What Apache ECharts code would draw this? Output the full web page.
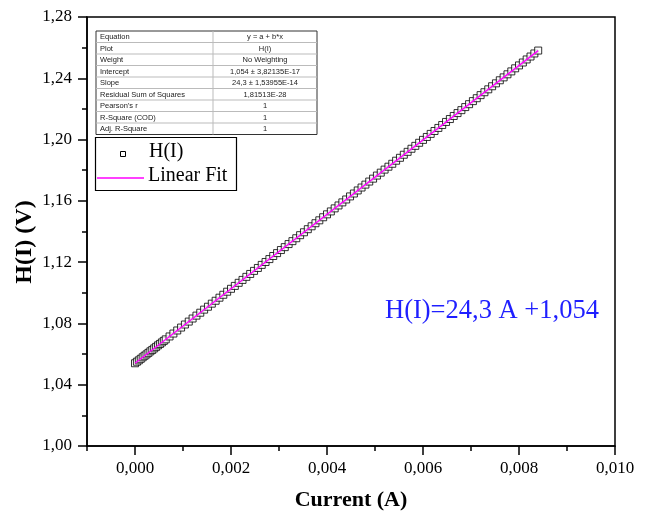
<!DOCTYPE html>
<html>
<head>
<meta charset="utf-8">
<script src="https://cdn.jsdelivr.net/npm/echarts@6/dist/echarts.min.js"></script>
<style>html,body{margin:0;padding:0;background:#fff}#c{width:648px;height:516px}</style>
</head>
<body>
<div id="c"></div>
<script>
// Measured data H(I) vs current
const currentA = [
  0, 0.00004, 0.00008, 0.00012, 0.00016, 0.0002, 0.00024, 0.00028, 0.00032, 0.00036, 0.0004, 0.00044, 0.00048, 0.00052, 0.00056, 0.0006,
  0.00064, 0.00072, 0.0008, 0.00088, 0.00096, 0.00104, 0.00112, 0.0012, 0.00128, 0.00136,
  0.00144, 0.00152, 0.0016, 0.00168, 0.00176, 0.00184, 0.00192, 0.002, 0.00208, 0.00216,
  0.00224, 0.00232, 0.0024, 0.00248, 0.00256, 0.00264, 0.00272, 0.0028, 0.00288, 0.00296,
  0.00304, 0.00312, 0.0032, 0.00328, 0.00336, 0.00344, 0.00352, 0.0036, 0.00368, 0.00376,
  0.00384, 0.00392, 0.004, 0.00408, 0.00416, 0.00424, 0.00432, 0.0044, 0.00448, 0.00456,
  0.00464, 0.00472, 0.0048, 0.00488, 0.00496, 0.00504, 0.00512, 0.0052, 0.00528, 0.00536,
  0.00544, 0.00552, 0.0056, 0.00568, 0.00576, 0.00584, 0.00592, 0.006, 0.00608, 0.00616,
  0.00624, 0.00632, 0.0064, 0.00648, 0.00656, 0.00664, 0.00672, 0.0068, 0.00688, 0.00696,
  0.00704, 0.00712, 0.0072, 0.00728, 0.00736, 0.00744, 0.00752, 0.0076, 0.00768, 0.00776,
  0.00784, 0.00792, 0.008, 0.00808, 0.00816, 0.00824, 0.00832, 0.0084
];
const hVolt = [
  1.0540, 1.0550, 1.0559, 1.0569, 1.0579, 1.0589, 1.0598, 1.0608, 1.0618, 1.0627, 1.0637, 1.0647, 1.0657, 1.0666, 1.0676, 1.0686,
  1.0696, 1.0715, 1.0734, 1.0754, 1.0773, 1.0793, 1.0812, 1.0832, 1.0851, 1.0870,
  1.0890, 1.0909, 1.0929, 1.0948, 1.0968, 1.0987, 1.1007, 1.1026, 1.1045, 1.1065,
  1.1084, 1.1104, 1.1123, 1.1143, 1.1162, 1.1182, 1.1201, 1.1220, 1.1240, 1.1259,
  1.1279, 1.1298, 1.1318, 1.1337, 1.1356, 1.1376, 1.1395, 1.1415, 1.1434, 1.1454,
  1.1473, 1.1493, 1.1512, 1.1531, 1.1551, 1.1570, 1.1590, 1.1609, 1.1629, 1.1648,
  1.1668, 1.1687, 1.1706, 1.1726, 1.1745, 1.1765, 1.1784, 1.1804, 1.1823, 1.1842,
  1.1862, 1.1881, 1.1901, 1.1920, 1.1940, 1.1959, 1.1979, 1.1998, 1.2017, 1.2037,
  1.2056, 1.2076, 1.2095, 1.2115, 1.2134, 1.2154, 1.2173, 1.2192, 1.2212, 1.2231,
  1.2251, 1.2270, 1.2290, 1.2309, 1.2328, 1.2348, 1.2367, 1.2387, 1.2406, 1.2426,
  1.2445, 1.2465, 1.2484, 1.2503, 1.2523, 1.2542, 1.2562, 1.2581
];
// Linear fit endpoints
const fitX = [0, 0.0084];
const fitY = [1.054, 1.2581];
// Axis ticks
const xMajorTicks = [0, 0.002, 0.004, 0.006, 0.008, 0.010];
const xMinorTicks = [-0.001, 0.001, 0.003, 0.005, 0.007, 0.009];
// Fit statistics table
const tableLabels = ["Equation", "Plot", "Weight", "Intercept", "Slope", "Residual Sum of Squares", "Pearson's r", "R-Square (COD)", "Adj. R-Square"];
const tableValues = ["y = a + b*x", "H(I)", "No Weighting", "1,054 \u00b1 3,82135E-17", "24,3 \u00b1 1,53955E-14", "1,81513E-28", "1", "1", "1"];
const legendNames = ["H(I)", "Linear Fit"];
const fitText = "H(I)=24,3 A +1,054";

const serif = "'Liberation Serif','Times New Roman',serif";
const sans = "'Liberation Sans',Arial,sans-serif";

const chart = echarts.init(document.getElementById('c'), null, {renderer: 'canvas'});

const graphics = [];
// table
const tX = 96, tY = 31, tW = 221, rowH = 11.5, col = 213;
tableLabels.forEach((lab, i) => {
  const y = tY + i * rowH;
  if (i > 0) graphics.push({type: 'line', shape: {x1: tX, y1: y, x2: tX + tW, y2: y}, style: {stroke: '#bbb', lineWidth: 1}, z: 10});
  graphics.push({type: 'text', left: tX + 4, top: y + 2, style: {text: lab, font: '7.5px ' + sans, fill: '#222'}, z: 11});
  graphics.push({type: 'text', x: (col + tX + tW) / 2, y: y + 2, style: {text: tableValues[i], font: '7.5px ' + sans, fill: '#222', align: 'center'}, z: 11});
});
graphics.push({type: 'line', shape: {x1: col, y1: tY, x2: col, y2: tY + 9 * rowH}, style: {stroke: '#bbb', lineWidth: 1}, z: 10});
graphics.push({type: 'rect', shape: {x: tX, y: tY, width: tW, height: 9 * rowH}, style: {fill: '#fff', stroke: '#333', lineWidth: 1}, z: 9});
// legend
graphics.push({type: 'rect', shape: {x: 95.5, y: 137.5, width: 141, height: 53}, style: {fill: '#fff', stroke: '#000', lineWidth: 1.2}, z: 9});
graphics.push({type: 'rect', shape: {x: 120.5, y: 151.5, width: 5, height: 5}, style: {fill: '#fff', stroke: '#000', lineWidth: 1}, z: 11});
graphics.push({type: 'text', left: 149, top: 142, style: {text: legendNames[0], font: '20px ' + serif, fill: '#000'}, z: 11});
graphics.push({type: 'line', shape: {x1: 97, y1: 178, x2: 144, y2: 178}, style: {stroke: '#ff00ff', lineWidth: 1.5}, z: 11});
graphics.push({type: 'text', left: 148, top: 166, style: {text: legendNames[1], font: '20px ' + serif, fill: '#000'}, z: 11});
// fit equation
graphics.push({type: 'text', left: 385, top: 298, style: {text: fitText, font: '26.5px ' + serif, fill: '#1f1fff'}, z: 11});
// y axis title
graphics.push({type: 'text', x: 25, y: 242, rotation: Math.PI / 2, style: {text: 'H(I) (V)', font: 'bold 24px ' + serif, fill: '#000', align: 'center', verticalAlign: 'middle'}, z: 11});

const option = {
  animation: false,
  backgroundColor: '#fff',
  grid: {left: 87, right: 33, top: 17, bottom: 70, outerBoundsMode: 'none', show: true, borderColor: '#000', borderWidth: 1.5, backgroundColor: 'transparent'},
  xAxis: [{
    type: 'value', min: -0.001, max: 0.010, interval: 0.001,
    name: 'Current (A)', nameLocation: 'middle', nameGap: 43,
    nameTextStyle: {fontFamily: serif, fontWeight: 'bold', fontSize: 22, color: '#000'},
    axisLine: {show: true, onZero: false, lineStyle: {color: '#000', width: 1.5}},
    axisTick: {show: true, length: 9, customValues: xMajorTicks, lineStyle: {color: '#000', width: 1.5}},
    axisLabel: {customValues: xMajorTicks, margin: 14, fontFamily: serif, fontSize: 17, color: '#000',
      formatter: v => v.toFixed(3).replace('.', ',')},
    splitLine: {show: false}
  }, {
    type: 'value', min: -0.001, max: 0.010, position: 'bottom',
    axisLine: {show: false},
    axisTick: {show: true, length: 5, customValues: xMinorTicks, lineStyle: {color: '#000', width: 1.5}},
    axisLabel: {show: false},
    splitLine: {show: false}
  }],
  yAxis: {
    type: 'value', min: 1.00, max: 1.28, interval: 0.04,
    axisLine: {show: true, onZero: false, lineStyle: {color: '#000', width: 1.5}},
    axisTick: {show: true, length: 9, lineStyle: {color: '#000', width: 1.5}},
    minorTick: {show: true, splitNumber: 2, length: 5, lineStyle: {color: '#000', width: 1.5}},
    axisLabel: {margin: 15, fontFamily: serif, fontSize: 17, color: '#000',
      formatter: v => v.toFixed(2).replace('.', ',')},
    splitLine: {show: false}
  },
  series: [{
    name: legendNames[0], type: 'scatter', xAxisIndex: 0,
    data: currentA.map((x, i) => [x, hVolt[i]]),
    symbol: 'rect', symbolSize: 7,
    itemStyle: {color: '#fff', borderColor: '#000', borderWidth: 1},
    z: 2
  }, {
    name: legendNames[1], type: 'line', xAxisIndex: 0,
    data: fitX.map((x, i) => [x, fitY[i]]),
    symbol: 'none', lineStyle: {color: '#ff00ff', width: 1.5},
    z: 3
  }],
  graphic: graphics
};
chart.setOption(option);
</script>
</body>
</html>
